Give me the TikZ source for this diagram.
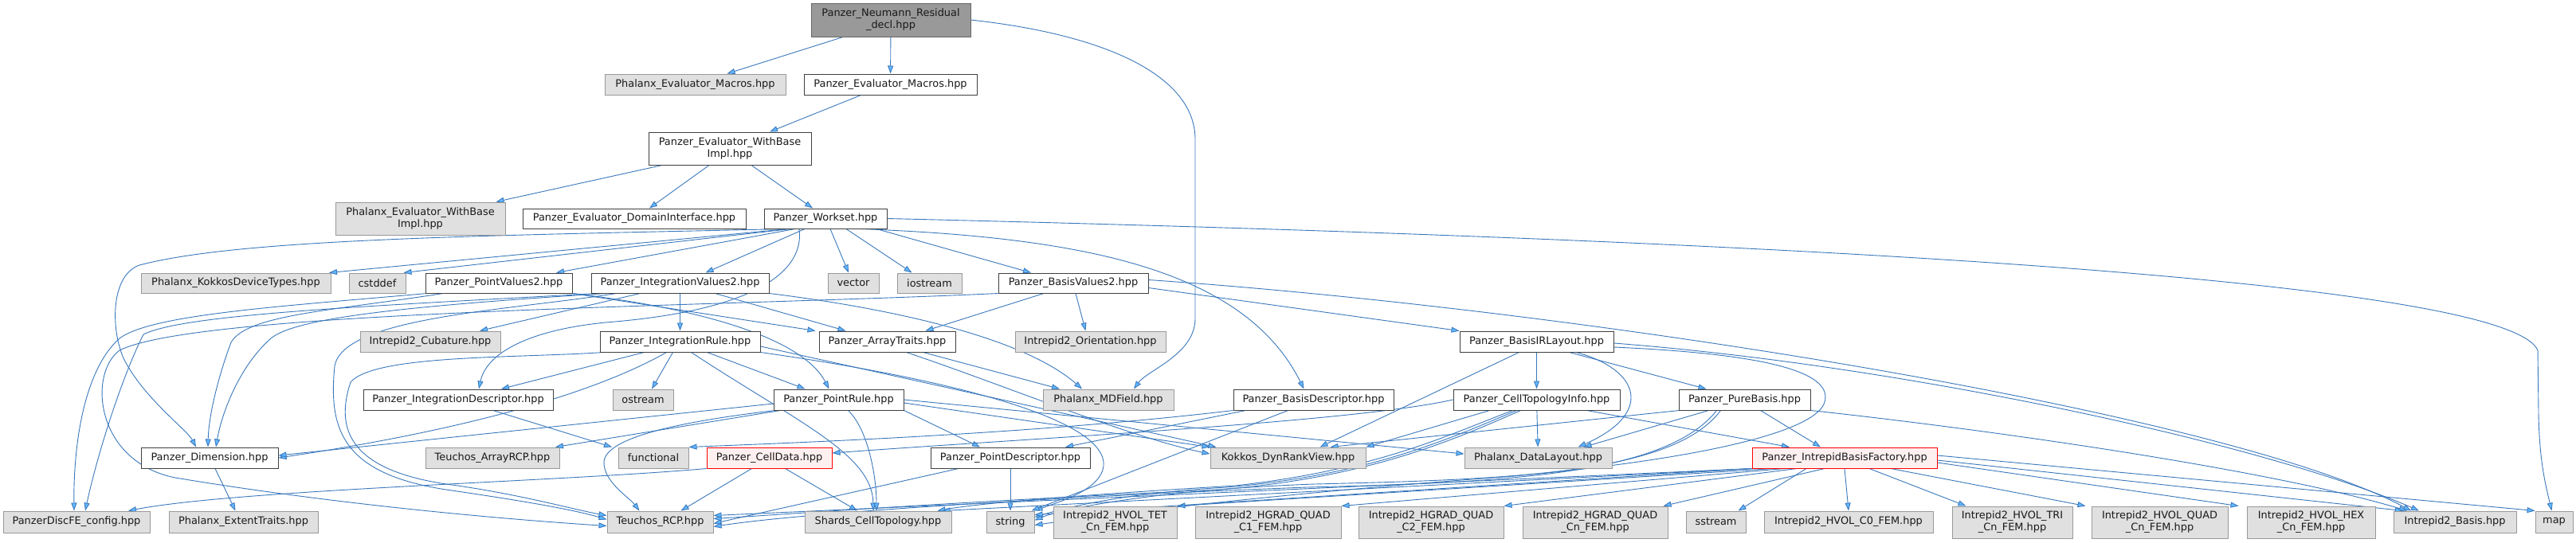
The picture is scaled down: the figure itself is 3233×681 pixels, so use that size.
\documentclass[tikz,border=0pt]{standalone}
\usepackage{fontspec}
\setmainfont{DejaVu Sans}
\usetikzlibrary{arrows.meta}
\pgfdeclarelayer{edgelayer}
\pgfsetlayers{edgelayer,main}
\definecolor{edgecol}{HTML}{3A78BC}
\definecolor{edgefill}{HTML}{63B8FF}
\definecolor{gfill}{HTML}{E0E0E0}
\definecolor{gdraw}{HTML}{999999}
\definecolor{wdraw}{HTML}{404040}
\definecolor{rootfill}{HTML}{999999}
\definecolor{rootdraw}{HTML}{666666}
\definecolor{rfill}{HTML}{FFF0F0}
\newcommand{\mybox}[7]{%
  \pgfmathsetmacro\mbw{#5-#3}\pgfmathsetmacro\mbh{#6-#4}%
  \pgfmathsetmacro\mbx{(#3+#5)/2}\pgfmathsetmacro\mby{(#4+#6)/2}%
  \node[#2, minimum width=\mbw pt, minimum height=\mbh pt] (#1) at (\mbx,\mby) {#7};}
\begin{document}
\begin{tikzpicture}[x=1pt,y=-1pt,
  nb/.style={rectangle, draw, line width=1pt, inner sep=1pt, align=center,
    font=\fontsize{12.9}{15}\selectfont, text=black!90},
  wb/.style={nb, fill=white, draw=wdraw},
  gb/.style={nb, fill=gfill, draw=gdraw},
  rb/.style={nb, fill=rfill, draw=red},
  rootb/.style={nb, fill=rootfill, draw=rootdraw},
  e/.style={draw=edgecol, line width=0.9pt, -{Triangle[length=10pt,width=7pt,fill=edgefill]}}]
\begin{pgfonlayer}{edgelayer}
\fill[white] (0,0) rectangle (3233,681);
\end{pgfonlayer}
\useasboundingbox (0,0) rectangle (3233,681);

\mybox{root}{rootb}{1018}{4}{1218}{46}{Panzer\_Neumann\_Residual\\\_decl.hpp}
\mybox{phxEvMac}{gb}{759}{93}{986}{119}{Phalanx\_Evaluator\_Macros.hpp}
\mybox{pzEvMac}{wb}{1009}{93}{1226}{119}{Panzer\_Evaluator\_Macros.hpp}
\mybox{pzEvWBI}{wb}{814}{166}{1018}{207}{Panzer\_Evaluator\_WithBase\\Impl.hpp}
\mybox{phxEvWBI}{gb}{421}{254}{634}{295}{Phalanx\_Evaluator\_WithBase\\Impl.hpp}
\mybox{pzDomI}{wb}{656}{262}{936}{287}{Panzer\_Evaluator\_DomainInterface.hpp}
\mybox{workset}{wb}{959}{262}{1113}{287}{Panzer\_Workset.hpp}
\mybox{kokkosDT}{gb}{177}{343}{415}{368}{Phalanx\_KokkosDeviceTypes.hpp}
\mybox{cstddef}{gb}{438}{343}{509}{368}{cstddef}
\mybox{pointVal}{wb}{534}{343}{718}{368}{Panzer\_PointValues2.hpp}
\mybox{intVal}{wb}{742}{343}{965}{368}{Panzer\_IntegrationValues2.hpp}
\mybox{vector}{gb}{1039}{343}{1103}{368}{vector}
\mybox{iostream}{gb}{1126}{343}{1207}{368}{iostream}
\mybox{basisVal}{wb}{1253}{343}{1441}{368}{Panzer\_BasisValues2.hpp}
\mybox{cubature}{gb}{452}{416}{628}{442}{Intrepid2\_Cubature.hpp}
\mybox{intRule}{wb}{753}{416}{954}{442}{Panzer\_IntegrationRule.hpp}
\mybox{arrayTraits}{wb}{1028}{416}{1199}{442}{Panzer\_ArrayTraits.hpp}
\mybox{orient}{gb}{1274}{416}{1463}{442}{Intrepid2\_Orientation.hpp}
\mybox{basisIR}{wb}{1832}{416}{2025}{442}{Panzer\_BasisIRLayout.hpp}
\mybox{intDesc}{wb}{456}{489}{694}{515}{Panzer\_IntegrationDescriptor.hpp}
\mybox{ostream}{gb}{769}{489}{845}{515}{ostream}
\mybox{pointRule}{wb}{971}{489}{1134}{515}{Panzer\_PointRule.hpp}
\mybox{mdfield}{gb}{1309}{489}{1473}{515}{Phalanx\_MDField.hpp}
\mybox{basisDesc}{wb}{1548}{489}{1749}{515}{Panzer\_BasisDescriptor.hpp}
\mybox{ctInfo}{wb}{1824}{489}{2033}{515}{Panzer\_CellTopologyInfo.hpp}
\mybox{pureBasis}{wb}{2107}{489}{2272}{515}{Panzer\_PureBasis.hpp}
\mybox{dimension}{wb}{177}{562}{349}{588}{Panzer\_Dimension.hpp}
\mybox{arrayRCP}{gb}{534}{562}{702}{588}{Teuchos\_ArrayRCP.hpp}
\mybox{functional}{gb}{776}{562}{864}{588}{functional}
\mybox{cellData}{rb}{887}{562}{1044}{588}{Panzer\_CellData.hpp}
\mybox{pointDesc}{wb}{1168}{562}{1368}{588}{Panzer\_PointDescriptor.hpp}
\mybox{dynRank}{gb}{1519}{562}{1714}{588}{Kokkos\_DynRankView.hpp}
\mybox{dataLayout}{gb}{1838}{562}{2023}{588}{Phalanx\_DataLayout.hpp}
\mybox{ibf}{rb}{2199}{562}{2431}{588}{Panzer\_IntrepidBasisFactory.hpp}
\mybox{discFE}{gb}{4}{642}{188}{669}{PanzerDiscFE\_config.hpp}
\mybox{extent}{gb}{212}{642}{399}{669}{Phalanx\_ExtentTraits.hpp}
\mybox{rcp}{gb}{762}{642}{895}{669}{Teuchos\_RCP.hpp}
\mybox{shards}{gb}{1010}{642}{1194}{669}{Shards\_CellTopology.hpp}
\mybox{string}{gb}{1238}{642}{1298}{669}{string}
\mybox{hvolTet}{gb}{1322}{636}{1477}{676}{Intrepid2\_HVOL\_TET\\\_Cn\_FEM.hpp}
\mybox{hgQa}{gb}{1500}{636}{1683}{676}{Intrepid2\_HGRAD\_QUAD\\\_C1\_FEM.hpp}
\mybox{hgQb}{gb}{1705}{636}{1887}{676}{Intrepid2\_HGRAD\_QUAD\\\_C2\_FEM.hpp}
\mybox{hgQn}{gb}{1911}{636}{2093}{676}{Intrepid2\_HGRAD\_QUAD\\\_Cn\_FEM.hpp}
\mybox{sstream}{gb}{2116}{642}{2191}{669}{sstream}
\mybox{hvolC}{gb}{2214}{642}{2426}{669}{Intrepid2\_HVOL\_C0\_FEM.hpp}
\mybox{hvolTri}{gb}{2450}{636}{2601}{676}{Intrepid2\_HVOL\_TRI\\\_Cn\_FEM.hpp}
\mybox{hvolQuad}{gb}{2625}{636}{2796}{676}{Intrepid2\_HVOL\_QUAD\\\_Cn\_FEM.hpp}
\mybox{hvolHex}{gb}{2820}{636}{2981}{676}{Intrepid2\_HVOL\_HEX\\\_Cn\_FEM.hpp}
\mybox{basis}{gb}{3004}{642}{3158}{669}{Intrepid2\_Basis.hpp}
\mybox{map}{gb}{3182}{642}{3229}{669}{map}

\begin{pgfonlayer}{edgelayer}
% ---- top part
\draw[e] ([xshift=-60pt]root.south) -- ([xshift=40pt]phxEvMac.north);
\draw[e] (root) -- (pzEvMac);
\draw[e] (root.east) .. controls (1400,45) and (1500,100) .. (1500,175) -- (1500,400)
  .. controls (1500,445) and (1440,465) .. ([xshift=32pt]mdfield.north);
\draw[e] ([xshift=-37pt]pzEvMac.south) -- ([xshift=50pt]pzEvWBI.north);
\draw[e] ([xshift=-85pt]pzEvWBI.south) -- ([xshift=95pt]phxEvWBI.north);
\draw[e] ([xshift=-26pt]pzEvWBI.south) -- ([xshift=19pt]pzDomI.north);
\draw[e] ([xshift=27pt]pzEvWBI.south) -- ([xshift=-16pt]workset.north);

% ---- workset
\draw[e] ([xshift=-47pt]workset.south) -- ([xshift=117pt]kokkosDT.north);
\draw[e] ([xshift=-44pt]workset.south) -- ([xshift=33pt]cstddef.north);
\draw[e] ([xshift=-38pt]workset.south) -- ([xshift=72pt]pointVal.north);
\draw[e] ([xshift=-26pt]workset.south) -- ([xshift=32pt]intVal.north);
\draw[e] ([xshift=6pt]workset.south) -- ([xshift=-6pt]vector.north);
\draw[e] ([xshift=26pt]workset.south) -- ([xshift=-22pt]iostream.north);
\draw[e] ([xshift=64pt]workset.south) -- ([xshift=-53pt]basisVal.north);
\draw[e] ([xshift=-50pt]workset.south) .. controls (600,296) and (300,300) .. (175,333)
  .. controls (140,345) and (138,410) .. (155,450) .. controls (180,500) and (235,540) .. ([xshift=-17pt]dimension.north);
\draw[e] (workset.east) .. controls (2400,305) and (3150,360) .. (3185,440) -- (3186,520)
  .. controls (3187,580) and (3195,610) .. ([xshift=-3pt]map.north);
\draw[e] ([xshift=-33pt]workset.south) .. controls (1010,340) and (950,390) .. (760,405)
  .. controls (660,415) and (610,445) .. ([xshift=26pt]intDesc.north);
\draw[e] ([xshift=44pt]workset.south) .. controls (1350,298) and (1560,335) .. ([xshift=-12pt]basisDesc.north);

% ---- point values
\draw[e] ([xshift=-90pt]pointVal.south) .. controls (350,385) and (190,395) .. (150,425)
  .. controls (105,465) and (92,560) .. ([xshift=-3pt]discFE.north);
\draw[e] ([xshift=-70pt]pointVal.south) .. controls (420,390) and (310,395) .. (290,430)
  .. controls (275,470) and (262,520) .. ([xshift=-2pt]dimension.north);
\draw[e] (pointVal.south east) -- ([xshift=-90pt]arrayTraits.north);
\draw[e] (pointVal.south east) .. controls (900,390) and (1010,430) .. ([xshift=-12pt]pointRule.north);

% ---- integration values
\draw[e] (intVal) -- (intRule);
\draw[e] ([xshift=-50pt]intVal.south) -- ([xshift=62pt]cubature.north);
\draw[e] ([xshift=44pt]intVal.south) -- ([xshift=-52pt]arrayTraits.north);
\draw[e] (intVal.south east) .. controls (1100,385) and (1280,420) .. ([xshift=-33pt]mdfield.north);
\draw[e] ([xshift=-103pt]intVal.south) .. controls (450,385) and (230,395) .. (180,420)
  .. controls (150,480) and (120,580) .. ([xshift=11pt]discFE.north);
\draw[e] ([xshift=-93pt]intVal.south) .. controls (500,385) and (370,400) .. (340,425)
  .. controls (300,460) and (278,520) .. ([xshift=8pt]dimension.north);
\draw[e] ([xshift=-80pt]intVal.south) .. controls (640,390) and (430,398) .. (420,460)
  .. controls (412,540) and (430,595) .. (560,615) .. controls (650,628) and (720,640) .. ([yshift=3pt]rcp.west);

% ---- basis values
\draw[e] ([xshift=-37pt]basisVal.south) -- ([xshift=48pt]arrayTraits.north);
\draw[e] ([xshift=3pt]basisVal.south) -- ([xshift=-6pt]orient.north);
\draw[e] ([yshift=-6pt]basisVal.east) -- (basisIR.north west);
\draw[e] ([yshift=4pt]basisVal.east) .. controls (2000,390) and (2800,520) .. ([xshift=-55pt]basis.north);
\draw[e] (basisVal.south west) .. controls (900,385) and (250,390) .. (150,440)
  .. controls (110,470) and (120,580) .. (220,600) .. controls (400,630) and (600,650) .. ([yshift=-5pt]rcp.west);

% ---- integration rule
\draw[e] ([xshift=-45pt]intRule.south) -- ([xshift=54pt]intDesc.north);
\draw[e] ([xshift=-9pt]intRule.south) -- ([xshift=11pt]ostream.north);
\draw[e] ([xshift=34pt]intRule.south) -- ([xshift=-42pt]pointRule.north);
\draw[e] ([xshift=14pt]intRule.south) .. controls (1000,530) and (1095,570) .. ([xshift=-6pt]shards.north);
\draw[e] ([xshift=-17pt]intRule.south) .. controls (700,520) and (450,560) .. (dimension.east);
\draw[e] ([xshift=5pt]intRule.south west) .. controls (650,450) and (470,445) .. (440,480)
  .. controls (420,540) and (440,590) .. (560,608) .. controls (650,620) and (720,640) .. ([yshift=8pt]rcp.west);
\draw[e] (intRule.south east) .. controls (1150,470) and (1390,520) .. (1385,585)
  .. controls (1382,615) and (1330,630) .. (string.north east);
\draw[e] ([yshift=-6pt]intRule.east) -- ([xshift=-90pt]dynRank.north);

% ---- point rule
\draw[e] ([xshift=-73pt]pointRule.south) -- ([xshift=79pt]arrayRCP.north);
\draw[e] ([xshift=12pt]pointRule.south) .. controls (1090,540) and (1100,600) .. ([xshift=-2pt]shards.north);
\draw[e] (pointRule.south east) -- ([xshift=-38pt]pointDesc.north);
\draw[e] ([xshift=-80pt]pointRule.south) .. controls (850,530) and (760,550) .. (758,580)
  .. controls (757,605) and (790,625) .. ([xshift=-26pt]rcp.north);
\draw[e] ([yshift=-4pt]pointRule.east) -- (dynRank.north west);
\draw[e] (pointRule.east) -- ([yshift=5pt]dataLayout.west);
\draw[e] ([yshift=-5pt]pointRule.west) -- ([yshift=3pt]dimension.east);

% ---- array traits
\draw[e] ([xshift=45pt]arrayTraits.south) -- ([xshift=-61pt]mdfield.north);
\draw[e] ([xshift=24pt]arrayTraits.south) .. controls (1250,480) and (1420,550) .. ([yshift=5pt]dynRank.west);

% ---- descriptors
\draw[e] ([xshift=44pt]intDesc.south) -- ([xshift=-52pt]functional.north);
\draw[e] (basisDesc.south west) .. controls (1300,545) and (1000,556) .. (functional.north east);
\draw[e] ([xshift=-32pt]basisDesc.south) -- ([xshift=-4pt]string.north east);
\draw[e] ([xshift=-85pt]basisDesc.south) -- ([xshift=69pt]pointDesc.north);
\draw[e] (pointDesc) -- (string);
\draw[e] ([xshift=-65pt]pointDesc.south) -- ([yshift=-2pt]rcp.east);

% ---- cell data, dimension
\draw[e] ([xshift=-22pt]cellData.south) -- ([xshift=26pt]rcp.north);
\draw[e] ([xshift=20pt]cellData.south) -- ([xshift=-26pt]shards.north);
\draw[e] (cellData.south west) .. controls (700,605) and (300,615) .. ([xshift=65pt]discFE.north);
\draw[e] ([xshift=7pt]dimension.south) -- ([xshift=-10pt]extent.north);

% ---- basis IR layout
\draw[e] (basisIR) -- (ctInfo);
\draw[e] ([xshift=41pt]basisIR.south) -- ([xshift=-48pt]pureBasis.north);
\draw[e] ([xshift=50pt]basisIR.south) .. controls (2060,465) and (2075,520) .. ([xshift=50pt]dataLayout.north);
\draw[e] ([xshift=-22pt]basisIR.south) -- ([xshift=40pt]dynRank.north);
\draw[e] ([yshift=-2pt]basisIR.east) .. controls (2400,460) and (2850,560) .. ([xshift=-45pt]basis.north);
\draw[e] ([yshift=-7pt]basisIR.east) .. controls (2230,445) and (2300,470) .. (2290,505)
  .. controls (2280,540) and (2150,575) .. (1900,598) .. controls (1600,620) and (1400,645) .. ([yshift=-4pt]string.east);

% ---- cell topology info
\draw[e] (ctInfo) -- (dataLayout);
\draw[e] ([xshift=-59pt]ctInfo.south) -- (dynRank.north east);
\draw[e] (ctInfo.west) .. controls (1700,530) and (1300,550) .. ([yshift=6pt]cellData.east);
\draw[e] ([xshift=63pt]ctInfo.south) -- ([xshift=-69pt]ibf.north);
\draw[e] ([xshift=-30pt]ctInfo.south) .. controls (1820,545) and (1730,590) .. (1550,610)
  .. controls (1350,622) and (1230,632) .. ([xshift=-18pt]shards.north east);
\draw[e] ([xshift=-25pt]ctInfo.south) .. controls (1825,548) and (1725,596) .. (1540,612)
  .. controls (1400,620) and (1330,640) .. ([yshift=6pt]string.east);
\draw[e] ([xshift=-20pt]ctInfo.south) .. controls (1830,550) and (1720,600) .. (1530,615)
  .. controls (1200,630) and (1000,645) .. ([yshift=4pt]rcp.east);

% ---- pure basis
\draw[e] ([xshift=20pt]pureBasis.south) -- ([xshift=-30pt]ibf.north);
\draw[e] ([xshift=-45pt]pureBasis.south) -- ([xshift=57pt]dataLayout.north);
\draw[e] ([xshift=-82pt]pureBasis.south) -- ([xshift=53pt]dynRank.north);
\draw[e] (pureBasis.south east) .. controls (2500,540) and (2850,590) .. ([xshift=-60pt]basis.north);
\draw[e] ([xshift=-30pt]pureBasis.south) .. controls (2100,595) and (1900,602) .. (1650,608)
  .. controls (1450,615) and (1330,640) .. ([yshift=2pt]string.east);
\draw[e] ([xshift=-35pt]pureBasis.south) .. controls (2090,598) and (1880,606) .. (1640,612)
  .. controls (1300,625) and (1000,645) .. ([yshift=-6pt]rcp.east);

% ---- intrepid basis factory
\draw[e] ([xshift=-48pt]ibf.south) -- ([xshift=28pt]sstream.north);
\draw[e] (ibf.south) -- (hvolC.north);
\draw[e] ([xshift=31pt]ibf.south) -- ([xshift=-58pt]hvolTri.north);
\draw[e] ([xshift=58pt]ibf.south) -- ([xshift=-93pt]hvolQuad.north);
\draw[e] ([yshift=-6pt]ibf.east) -- ([xshift=-91pt]hvolHex.north);
\draw[e] ([yshift=-3pt]ibf.east) -- ([xshift=-65pt]basis.north);
\draw[e] ([yshift=3pt]ibf.east) -- (map.north west);
\draw[e] ([xshift=-25pt]ibf.south) -- ([xshift=-6pt]hgQn.north east);
\draw[e] ([xshift=-60pt]ibf.south) -- (hgQb.north east);
\draw[e] ([xshift=-75pt]ibf.south) -- (hgQa.north east);
\draw[e] ([xshift=-90pt]ibf.south) -- (hvolTet.north east);
\draw[e] (ibf.south west) -- ([yshift=9pt]string.east);
\draw[e] (ibf.south west) -- ([xshift=-12pt]shards.north east);
\draw[e] (ibf.south west) -- ([yshift=8pt]rcp.east);
\end{pgfonlayer}
\end{tikzpicture}
\end{document}
